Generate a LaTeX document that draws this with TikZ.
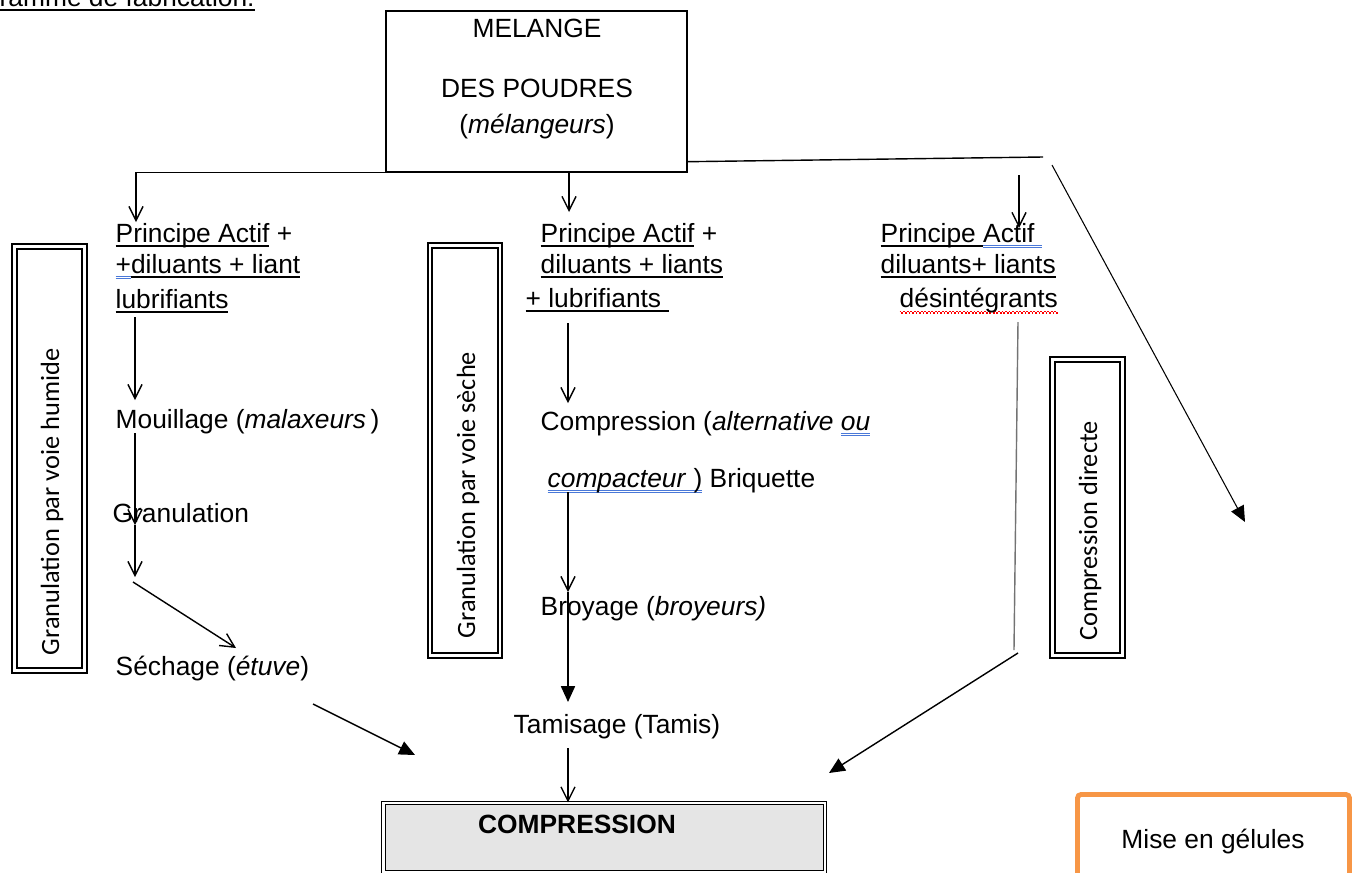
\documentclass[tikz,border=0pt]{standalone}
\usepackage{fontspec}
\setmainfont{Liberation Sans}
\newfontfamily\carlito{Carlito}
\usepackage{xcolor}
\usepackage{tikz}
\usetikzlibrary{arrows.meta}

\definecolor{spellblue}{HTML}{4A78D8}
\definecolor{boxorange}{HTML}{F79646}
% underlines (plain, and the spell-check marks of the scanned page)
\newsavebox\ulbox
\newcommand\ul[1]{\sbox\ulbox{#1}\rlap{\rule[-2.6pt]{\wd\ulbox}{0.8pt}}\usebox\ulbox}
\newcommand\bluedbl[1]{\sbox\ulbox{#1}%
  \rlap{\textcolor{spellblue}{\rule[-2.2pt]{\wd\ulbox}{0.5pt}}}%
  \rlap{\textcolor{spellblue}{\rule[-3.6pt]{\wd\ulbox}{0.5pt}}}\usebox\ulbox}
\newcommand\redwave[1]{\sbox\ulbox{#1}%
  \rlap{\textcolor{red}{\hbox to \wd\ulbox{\xleaders\hbox{\rule[-3pt]{1pt}{0.7pt}\rule[-3.8pt]{1pt}{0.7pt}}\hfill}}}\usebox\ulbox}

\begin{document}
\begin{tikzpicture}[x=0.02cm, y=-0.02cm, line width=0.8pt,
      font=\fontsize{15}{18}\selectfont,
      op/.style={-{Straight Barb[length=8pt,width=8pt]}},
      fa/.style={-{Triangle[length=9pt,width=8pt]}},
      txt/.style={anchor=base west, inner sep=0pt},
      ctxt/.style={anchor=base, inner sep=0pt},
      vbox/.style={draw, double, line width=1.1pt, double distance=1.3pt, minimum width=1.4cm, inner sep=0pt},
      vtxt/.style={rotate=90, inner sep=0pt, font=\carlito\fontsize{15}{18}\selectfont}]
    \useasboundingbox (0,0) rectangle (1357,873);
    \clip (0,0) rectangle (1357,873);
    % title (cut at the page edge)
    \node[txt] (ttl) at (-1,6) {\ul{ramme de fabrication:}};
    % melange
    \node[draw, minimum width=6.02cm, minimum height=3.22cm, inner sep=0pt] (mel) at (536.5,91.5) {};
    \node[ctxt] (mel1) at (537,37) {MELANGE};
    \node[ctxt] (mel2) at (537,97) {DES POUDRES};
    \node[ctxt] (mel3) at (537,133) {(\textit{mélangeurs})};
    % three mixtures
    \node[txt] (pal1) at (115,242) {\ul{Principe Actif} +};
    \node[txt] (pal2) at (115,273) {\bluedbl{+}\ul{diluants + liant}};
    \node[txt] (pal3) at (115,308) {\ul{lubrifiants}};
    \node[txt] (pam1) at (540,242) {\ul{Principe Actif} +};
    \node[txt] (pam2) at (540,273) {\ul{diluants + liants}};
    \node[txt] (pam3) at (525,307) {\ul{+ lubrifiants\ }};
    \node[txt] (par1) at (880,242) {\ul{Principe\ }\bluedbl{Actif\ }};
    \node[txt] (par2) at (880,273) {\ul{diluants+ liants}};
    \node[txt] (par3) at (899,307) {\redwave{désintégrants}};
    % voie humide
    \node[txt] (mou) at (115,428) {Mouillage (\textit{malaxeurs}\,)};
    \node[txt] (gra) at (112,522) {Granulation};
    \node[txt] (sec) at (115,675) {Séchage (\textit{étuve})};
    % voie seche
    \node[txt] (cp1) at (540,430) {Compression (\textit{alternative} \bluedbl{\textit{ou}}};
    \node[txt] (cp2) at (547,487) {\bluedbl{\textit{compacteur} )} Briquette};
    \node[txt] (bro) at (540,615) {Broyage (\textit{broyeurs)}};
    \node[txt] (tam) at (513,733) {Tamisage (Tamis)};
    % side labels
    \node[vbox, minimum height=8.48cm] (vb1) at (49.5,458.5) {};
    \node[vtxt] (vt1) at (52,502) {Granulation par voie humide};
    \node[vbox, minimum height=8.2cm] (vb2) at (465,450.5) {};
    \node[vtxt] (vt2) at (468,495) {Granulation par voie sèche};
    \node[vbox, minimum height=5.92cm] (vb3) at (1087.5,507.5) {};
    \node[vtxt] (vt3) at (1090,531) {Compression directe};
    % bottom boxes
    \node[draw, double, line width=0.6pt, double distance=1.6pt, fill=black!10,
          minimum width=8.83cm, minimum height=1.38cm, inner sep=0pt] (comp) at (604.25,837.5) {};
    \node[ctxt, font=\fontsize{15}{18}\selectfont\bfseries] (comptxt) at (577,833) {COMPRESSION};
    \node[draw=boxorange, line width=2.8pt, rounded corners=2pt,
          minimum width=5.44cm, minimum height=2.1cm, inner sep=0pt] (mise) at (1213.5,847) {};
    \node[ctxt] (misetxt) at (1213,848) {Mise en gélules};
    % arrow ends
    \foreach \n/\p in {tL/{136,222}, tM/{569,212}, r1/{1043,157}, r2/{1052,165}, r3/{1245,522},
        r4/{1019,175}, r5/{1019,228}, a1/{135,317}, a2/{135,400}, a3/{135,433}, a4/{135,525},
        a5/{135,577}, a6/{133,582}, a7/{236,648}, a8/{313,704}, a9/{415,755},
        b1/{568,323}, b2/{568,403}, b3/{568,492}, b4/{568,592}, b5/{568,702}, b6/{568,748},
        c1/{1018,322}, c2/{1014,650}, c3/{1018,653}, c4/{829,773}} {
      \coordinate (\n) at (\p);
    }
    % connectors
    \draw[op] (mel.south west) -| (tL);
    \draw[op] (mel.south -| tM) -- (tM);
    \draw ([yshift=0.22cm]mel.south east) -- (r1);
    \draw[fa, line width=0.6pt] (r2) -- (r3);
    \foreach \s/\e in {r4/r5, a1/a2, a3/a4, a4/a5, a6/a7, b1/b2, b3/b4} {
      \draw[op] (\s) -- (\e);
    }
    \foreach \s/\e in {a8/a9, b4/b5, c3/c4} {
      \draw[fa] (\s) -- (\e);
    }
    \draw[op] (b6) -- (comp.north -| b6);
    \draw[black!55] (c1) -- (c2);
  \end{tikzpicture}
\end{document}
